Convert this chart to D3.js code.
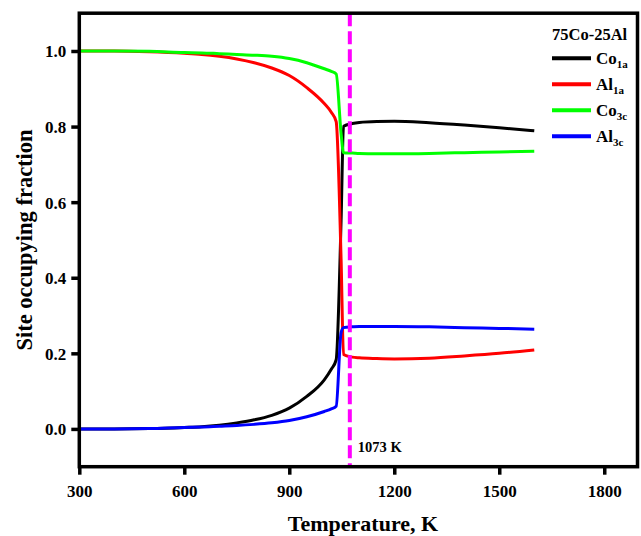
<!DOCTYPE html>
<html>
<head>
<meta charset="utf-8">
<script src="https://cdn.jsdelivr.net/npm/d3@7"></script>
<style>
  html, body { margin: 0; padding: 0; background: #fff; }
  svg { display: block; }
  text { font-family: "Liberation Serif", "Times New Roman", serif; font-weight: bold; fill: #000; }
</style>
</head>
<body>
<svg id="chart" width="641" height="536"></svg>
<script>
// Temperatures (K) at which site fractions were evaluated
const temperature = [300, 400, 500, 600, 650, 700, 750, 800, 850, 900, 950, 1000, 1020, 1034, 1048, 1055, 1080, 1100, 1150, 1200, 1300, 1400, 1500, 1600];

// Site occupying fractions for 75Co-25Al
const co1a = [0.000, 0.000, 0.001, 0.004, 0.006, 0.010, 0.016, 0.024, 0.036, 0.055, 0.086, 0.130, 0.158, 0.183, 0.550, 0.801, 0.808, 0.811, 0.8135, 0.814, 0.810, 0.804, 0.797, 0.789];
const al1a = [1.000, 1.000, 0.998, 0.994, 0.991, 0.986, 0.979, 0.969, 0.955, 0.935, 0.903, 0.861, 0.838, 0.813, 0.450, 0.197, 0.190, 0.188, 0.186, 0.185, 0.187, 0.193, 0.200, 0.209];
const co3c = [1.000, 1.000, 0.999, 0.996, 0.995, 0.993, 0.991, 0.989, 0.986, 0.980, 0.969, 0.953, 0.946, 0.939, 0.782, 0.731, 0.730, 0.729, 0.728, 0.728, 0.729, 0.731, 0.733, 0.735];
const al3c = [0.000, 0.000, 0.001, 0.004, 0.005, 0.007, 0.009, 0.012, 0.016, 0.022, 0.032, 0.046, 0.053, 0.060, 0.255, 0.268, 0.270, 0.271, 0.271, 0.271, 0.270, 0.268, 0.266, 0.264];

const seriesNames = ["Co", "Al", "Co", "Al"];
const seriesSubs = ["1a", "1a", "3c", "3c"];
const seriesValues = [co1a, al1a, co3c, al3c];
const seriesColors = ["#000000", "#ff0000", "#00ff00", "#0000ff"];

const xTicks = [300, 600, 900, 1200, 1500, 1800];
const yTicks = [0.0, 0.2, 0.4, 0.6, 0.8, 1.0];
const transitionT = 1073;
const legendTitle = "75Co-25Al";

const svg = d3.select("#chart");

const plotLeft = 79.3, plotRight = 637.5, plotTop = 13.2, plotBottom = 466.7;
const x = d3.scaleLinear().domain([300, 1895]).range([plotLeft, plotRight]);
const y = d3.scaleLinear().domain([-0.1, 1.1]).range([plotBottom, plotTop]);

// Series curves
const line = d3.line().x(d => x(d[0])).y(d => y(d[1])).curve(d3.curveMonotoneX);
seriesValues.forEach((vals, i) => {
  svg.append("path")
    .datum(temperature.map((t, j) => [t, vals[j]]))
    .attr("fill", "none")
    .attr("stroke", seriesColors[i])
    .attr("stroke-width", 3)
    .attr("stroke-linejoin", "round")
    .attr("d", line);
});

// Order-disorder transition marker
svg.append("line")
  .attr("x1", x(transitionT)).attr("x2", x(transitionT))
  .attr("y1", plotTop).attr("y2", plotBottom)
  .attr("stroke", "#ff00ff")
  .attr("stroke-width", 4)
  .attr("stroke-dasharray", "13,5");

svg.append("text")
  .attr("x", x(transitionT) + 8)
  .attr("y", 452)
  .style("font-size", "14.5px")
  .text(transitionT + " K");

// Axes
const xAxis = d3.axisBottom(x).tickValues(xTicks).tickFormat(d3.format("d")).tickSize(8).tickSizeOuter(0);
const yAxis = d3.axisLeft(y).tickValues(yTicks).tickFormat(d3.format(".1f")).tickSize(8).tickSizeOuter(0);

const gx = svg.append("g").attr("transform", `translate(0,${plotBottom})`).call(xAxis);
const gy = svg.append("g").attr("transform", `translate(${plotLeft},0)`).call(yAxis);

[gx, gy].forEach(g => {
  g.select(".domain").remove();
  g.selectAll(".tick line").attr("stroke", "#000").attr("stroke-width", 3.5);
  g.selectAll(".tick text")
    .style("font-family", '"Liberation Serif", "Times New Roman", serif')
    .style("font-weight", "bold")
    .style("font-size", "17px")
    .attr("fill", "#000");
});
gx.selectAll(".tick text").attr("dy", null).attr("y", 30);
gy.selectAll(".tick text").attr("x", -13).attr("dy", "0.35em");

// Frame
svg.append("rect")
  .attr("x", plotLeft).attr("y", plotTop)
  .attr("width", plotRight - plotLeft).attr("height", plotBottom - plotTop)
  .attr("fill", "none")
  .attr("stroke", "#000")
  .attr("stroke-width", 3.5);

// Axis titles
svg.append("text")
  .attr("x", 363).attr("y", 530.5)
  .attr("text-anchor", "middle")
  .style("font-size", "22px")
  .text("Temperature, K");

svg.append("text")
  .attr("transform", "translate(32,240) rotate(-90)")
  .attr("text-anchor", "middle")
  .style("font-size", "22.5px")
  .text("Site occupying fraction");

// Legend
const legend = svg.append("g");
legend.append("text")
  .attr("x", 552).attr("y", 40)
  .style("font-size", "16.5px")
  .text(legendTitle);

seriesNames.forEach((name, i) => {
  const ly = 58.3 + i * 26;
  legend.append("line")
    .attr("x1", 552).attr("x2", 591)
    .attr("y1", ly).attr("y2", ly)
    .attr("stroke", seriesColors[i])
    .attr("stroke-width", 4);
  const t = legend.append("text")
    .attr("x", 596).attr("y", ly + 6)
    .style("font-size", "17px");
  t.append("tspan").text(name);
  t.append("tspan")
    .attr("dy", 4)
    .style("font-size", "11px")
    .text(seriesSubs[i]);
});
</script>
</body>
</html>
